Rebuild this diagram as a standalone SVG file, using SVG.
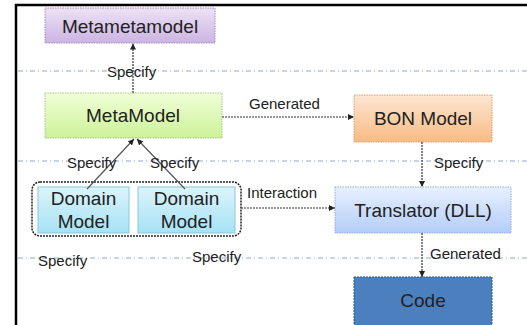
<svg xmlns="http://www.w3.org/2000/svg" width="527" height="325" viewBox="0 0 527 325">
<defs>
<linearGradient id="gPurple" x1="0" y1="0" x2="0" y2="1"><stop offset="0" stop-color="#ede2f6"/><stop offset="1" stop-color="#cbb4e2"/></linearGradient>
<linearGradient id="gGreen" x1="0" y1="0" x2="0" y2="1"><stop offset="0" stop-color="#f0ffd8"/><stop offset="1" stop-color="#cdf297"/></linearGradient>
<linearGradient id="gOrange" x1="0" y1="0" x2="0" y2="1"><stop offset="0" stop-color="#fde6d2"/><stop offset="1" stop-color="#f8bb84"/></linearGradient>
<linearGradient id="gBlue" x1="0" y1="0" x2="0" y2="1"><stop offset="0" stop-color="#e8f0ff"/><stop offset="1" stop-color="#b3cdf8"/></linearGradient>
<linearGradient id="gCyan" x1="0" y1="0" x2="0" y2="1"><stop offset="0" stop-color="#dcf4fb"/><stop offset="1" stop-color="#a6e2f5"/></linearGradient>
<marker id="arr" viewBox="0 0 6 6" refX="6" refY="3" markerWidth="5" markerHeight="5" orient="auto"><path d="M0,0 L6,3 L0,6 z" fill="#222"/></marker>
</defs>
<style>
.sep{stroke:#8fa9cf;stroke-width:1;stroke-dasharray:5 3 1 3;fill:none}
.node text,.lbl{font-family:"Liberation Sans",Arial,sans-serif;fill:#222}
.node text{font-size:19px;text-anchor:middle}
.lbl{font-size:15px}
.conn{stroke:#333;stroke-width:1.2;stroke-dasharray:2 1;fill:none;marker-end:url(#arr)}
.solid{stroke:#555;stroke-width:1.2;fill:none;marker-end:url(#arr)}
</style>
<rect x="0" y="0" width="527" height="325" fill="#fff"/>
<path d="M16,325 V5 H527" fill="none" stroke="#000" stroke-width="2.5"/>
<g id="separators">
<line class="sep" x1="18" y1="71" x2="527" y2="71"/>
<line class="sep" x1="18" y1="161" x2="527" y2="161"/>
<line class="sep" x1="18" y1="258" x2="527" y2="258"/>
</g>
<g id="metametamodel" class="node">
<rect x="45" y="8" width="170" height="35" fill="url(#gPurple)" stroke="#a88cc8" stroke-dasharray="1.5 1"/>
<text x="130" y="33">Metametamodel</text>
</g>
<g id="metamodel" class="node">
<rect x="45" y="93" width="177" height="45" fill="url(#gGreen)" stroke="#a9c48a" stroke-dasharray="1.5 1"/>
<text x="133" y="122">MetaModel</text>
</g>
<g id="bonmodel" class="node">
<rect x="354" y="95" width="138" height="47" fill="url(#gOrange)" stroke="#dba070" stroke-dasharray="1.5 1"/>
<text x="423" y="125">BON Model</text>
</g>
<g id="translator" class="node">
<rect x="335" y="187" width="176" height="46" fill="url(#gBlue)" stroke="#94afd6" stroke-dasharray="1.5 1"/>
<text x="423" y="217">Translator (DLL)</text>
</g>
<g id="code" class="node">
<rect x="354" y="277" width="138" height="55" fill="#4c7fbd" stroke="#2d5a8e" stroke-dasharray="2 1"/>
<text x="423" y="307">Code</text>
</g>
<g id="domaingroup" class="node">
<rect x="32" y="182" width="209" height="54" rx="8" fill="none" stroke="#222" stroke-width="1.5" stroke-dasharray="2 1"/>
</g>
<g id="domain1" class="node">
<rect x="38" y="187" width="91" height="46" fill="url(#gCyan)" stroke="#86c9de"/>
<text x="83.5" y="205">Domain</text>
<text x="83.5" y="228">Model</text>
</g>
<g id="domain2" class="node">
<rect x="138" y="187" width="97" height="46" fill="url(#gCyan)" stroke="#86c9de"/>
<text x="186.5" y="205">Domain</text>
<text x="186.5" y="228">Model</text>
</g>
<g id="connectors">
<line class="conn" x1="133" y1="93" x2="133" y2="43.5"/>
<line class="conn" x1="222" y1="117" x2="354" y2="117"/>
<line class="conn" x1="422" y1="142" x2="422" y2="187"/>
<line class="conn" x1="241" y1="208" x2="335" y2="208"/>
<line class="conn" x1="422" y1="233" x2="422" y2="277"/>
<line class="solid" x1="87" y1="189" x2="134" y2="139"/>
<line class="solid" x1="185" y1="189" x2="137" y2="139"/>
</g>
<g id="labels">
<text class="lbl" x="107" y="77">Specify</text>
<text class="lbl" x="249" y="109">Generated</text>
<text class="lbl" x="434" y="168">Specify</text>
<text class="lbl" x="67" y="168">Specify</text>
<text class="lbl" x="150" y="168">Specify</text>
<text class="lbl" x="247" y="198">Interaction</text>
<text class="lbl" x="430" y="259">Generated</text>
<text class="lbl" x="38" y="266">Specify</text>
<text class="lbl" x="192" y="262">Specify</text>
</g>
</svg>
